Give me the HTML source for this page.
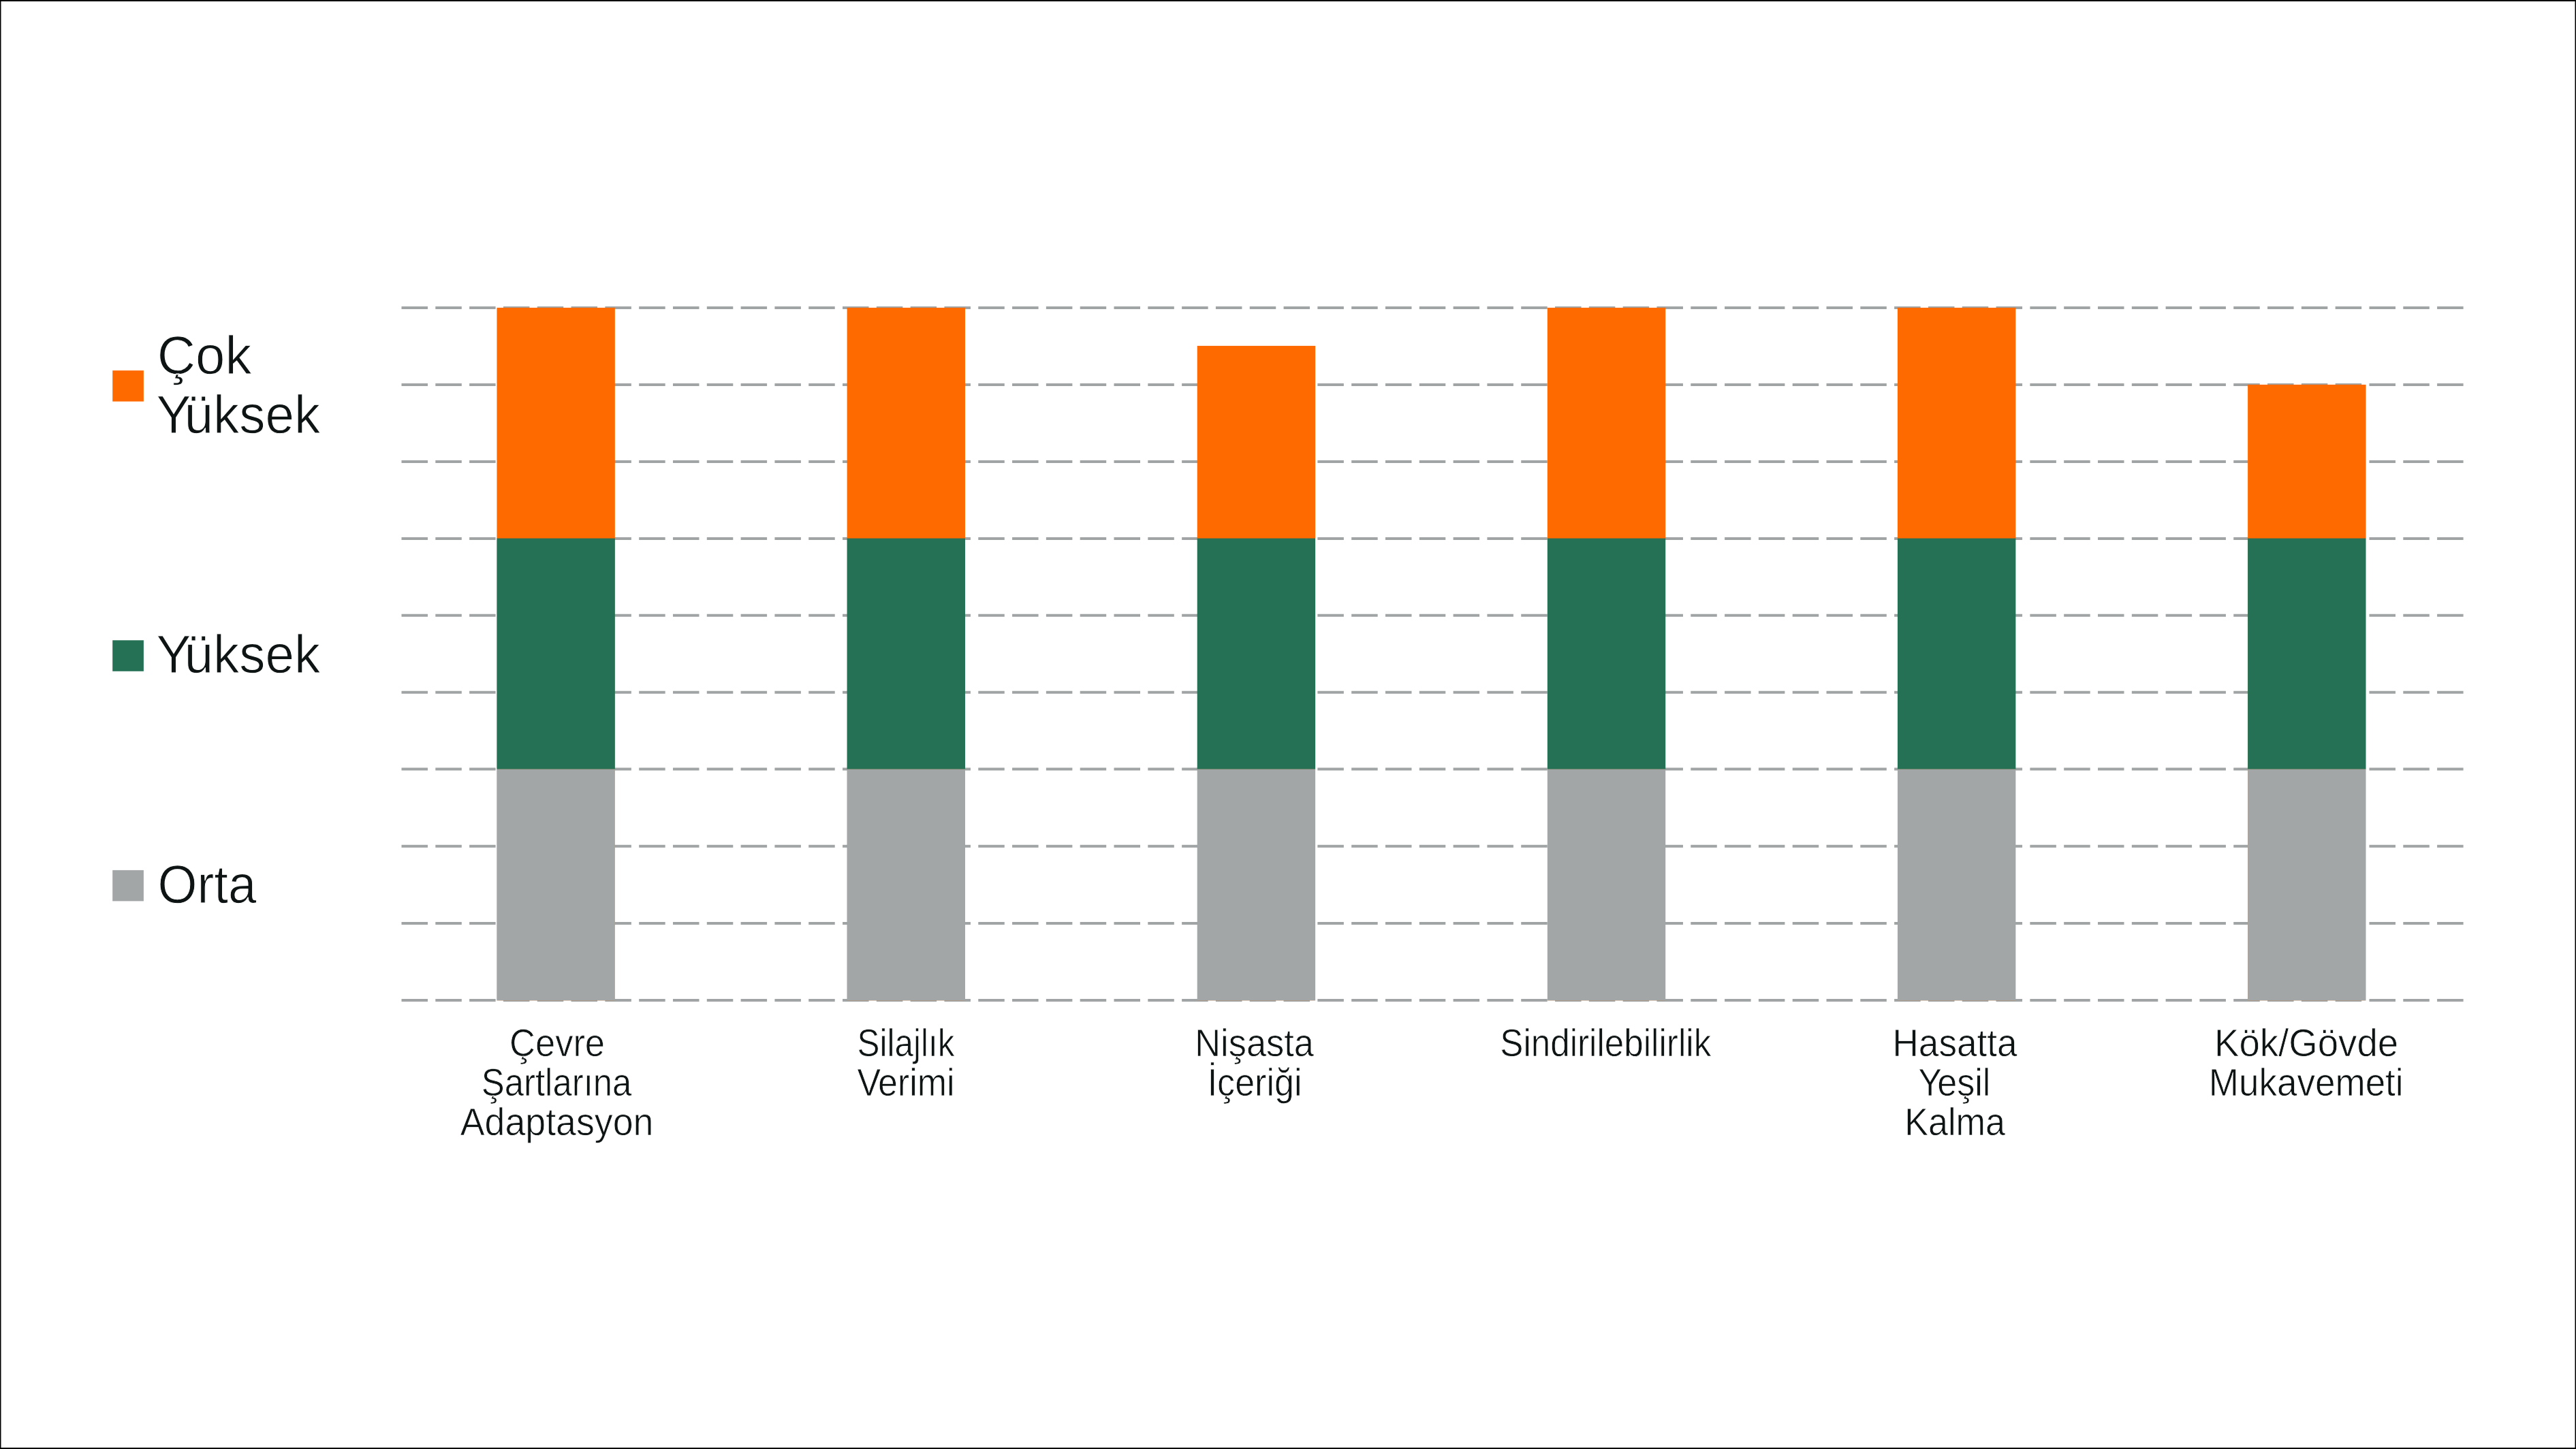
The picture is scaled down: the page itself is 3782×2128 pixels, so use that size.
<!DOCTYPE html>
<html lang="tr">
<head>
<meta charset="utf-8">
<title>Grafik</title>
<style>
html,body{margin:0;padding:0;background:#fff;}
body{width:3782px;height:2128px;overflow:hidden;}
svg{display:block;}
text{font-family:"Liberation Sans",sans-serif;fill:#0e1313;white-space:pre;}
text{stroke:#fff;vector-effect:non-scaling-stroke;stroke-linejoin:miter;text-rendering:geometricPrecision;}
.ax{stroke-width:0.7px;} .lg{stroke-width:1.0px;}
.ax{font-size:56.6px;}
.lg{font-size:79.0px;}
.grid line{stroke:#a0a4a4;stroke-width:4;stroke-dasharray:38.5 11.31;}
</style>
</head>
<body>
<svg width="3782" height="2128" viewBox="0 0 3782 2128">
<rect x="0" y="0" width="3782" height="2128" fill="#fff"/>
<g class="grid">
<line x1="589.5" y1="452.0" x2="3617" y2="452.0"/>
<line x1="589.5" y1="565.0" x2="3617" y2="565.0"/>
<line x1="589.5" y1="678.0" x2="3617" y2="678.0"/>
<line x1="589.5" y1="791.0" x2="3617" y2="791.0"/>
<line x1="589.5" y1="903.7" x2="3617" y2="903.7"/>
<line x1="589.5" y1="1016.7" x2="3617" y2="1016.7"/>
<line x1="589.5" y1="1129.6" x2="3617" y2="1129.6"/>
<line x1="589.5" y1="1242.8" x2="3617" y2="1242.8"/>
<line x1="589.5" y1="1355.9" x2="3617" y2="1355.9"/>
<line x1="589.5" y1="1469.1" x2="3617" y2="1469.1"/>
</g>
<g class="bars">
<rect x="729.45" y="451.9" width="173.4" height="339.10" fill="#ff6a00"/><rect x="729.75" y="790" width="172.50" height="679.2" fill="#ff6a00"/><rect x="729.45" y="790.6" width="173.4" height="339.2" fill="#247155"/><rect x="729.45" y="1129.6" width="173.4" height="339.73" fill="#a2a6a7"/>
<rect x="1243.58" y="451.9" width="173.4" height="339.10" fill="#ff6a00"/><rect x="1243.88" y="790" width="172.50" height="679.2" fill="#ff6a00"/><rect x="1243.58" y="790.6" width="173.4" height="339.2" fill="#247155"/><rect x="1243.58" y="1129.6" width="173.4" height="339.73" fill="#a2a6a7"/>
<rect x="1757.71" y="507.9" width="173.4" height="283.10" fill="#ff6a00"/><rect x="1758.01" y="790" width="172.50" height="679.2" fill="#ff6a00"/><rect x="1757.71" y="790.6" width="173.4" height="339.2" fill="#247155"/><rect x="1757.71" y="1129.6" width="173.4" height="339.73" fill="#a2a6a7"/>
<rect x="2271.84" y="451.9" width="173.4" height="339.10" fill="#ff6a00"/><rect x="2272.14" y="790" width="172.50" height="679.2" fill="#ff6a00"/><rect x="2271.84" y="790.6" width="173.4" height="339.2" fill="#247155"/><rect x="2271.84" y="1129.6" width="173.4" height="339.73" fill="#a2a6a7"/>
<rect x="2785.97" y="451.9" width="173.4" height="339.10" fill="#ff6a00"/><rect x="2786.27" y="790" width="172.50" height="679.2" fill="#ff6a00"/><rect x="2785.97" y="790.6" width="173.4" height="339.2" fill="#247155"/><rect x="2785.97" y="1129.6" width="173.4" height="339.73" fill="#a2a6a7"/>
<rect x="3300.1" y="564.9" width="173.4" height="226.10" fill="#ff6a00"/><rect x="3300.40" y="790" width="172.50" height="679.2" fill="#ff6a00"/><rect x="3300.1" y="790.6" width="173.4" height="339.2" fill="#247155"/><rect x="3300.1" y="1129.6" width="173.4" height="339.73" fill="#a2a6a7"/>
</g>
<g class="legend">
<rect x="165.2" y="544.1" width="45.7" height="45.5" fill="#ff6a00"/>
<rect x="165.2" y="940.3" width="45.7" height="45.5" fill="#247155"/>
<rect x="165.2" y="1277.9" width="45.7" height="45.5" fill="#a2a6a7"/>
</g>
<g class="labels">
<text class="lg" transform="translate(230.87 549) scale(0.9856 1)">Çok</text>
<text class="lg" dx="0 -10.27" transform="translate(229.61 636) scale(0.9665 1)">Yüksek</text>
<text class="lg" dx="0 -10.27" transform="translate(229.61 988) scale(0.9665 1)">Yüksek</text>
<text class="lg" transform="translate(231.51 1326) scale(0.9431 1)">Orta</text>
<text class="ax" transform="translate(748.02 1551) scale(0.9276 1)">Çevre</text>
<text class="ax" transform="translate(706.85 1609) scale(0.8986 1)">Şartlarına</text>
<text class="ax" transform="translate(675.78 1667) scale(0.9488 1)">Adaptasyon</text>
<text class="ax" transform="translate(1258.57 1551) scale(0.8731 1)">Silajlık</text>
<text class="ax" dx="0 -1.53" transform="translate(1258.58 1609) scale(0.9177 1)">Verimi</text>
<text class="ax" transform="translate(1754.18 1551) scale(0.9266 1)">Nişasta</text>
<text class="ax" transform="translate(1772.63 1609) scale(0.9201 1)">İçeriği</text>
<text class="ax" transform="translate(2202.27 1551) scale(0.9042 1)">Sindirilebilirlik</text>
<text class="ax" transform="translate(2778.50 1551) scale(0.9384 1)">Hasatta</text>
<text class="ax" dx="0 -2.26" transform="translate(2816.22 1609) scale(0.9214 1)">Yeşil</text>
<text class="ax" transform="translate(2796.13 1667) scale(0.9217 1)">Kalma</text>
<text class="ax" transform="translate(3250.96 1551) scale(0.9651 1)">Kök/Gövde</text>
<text class="ax" transform="translate(3242.86 1609) scale(0.9367 1)">Mukavemeti</text>
</g>
<g class="frame" fill="#000"><rect x="0" y="0" width="3782" height="2"/><rect x="0" y="2126" width="3782" height="2"/><rect x="0" y="0" width="1.5" height="2128"/><rect x="3780.5" y="0" width="1.5" height="2128"/></g>
</svg>
</body>
</html>
